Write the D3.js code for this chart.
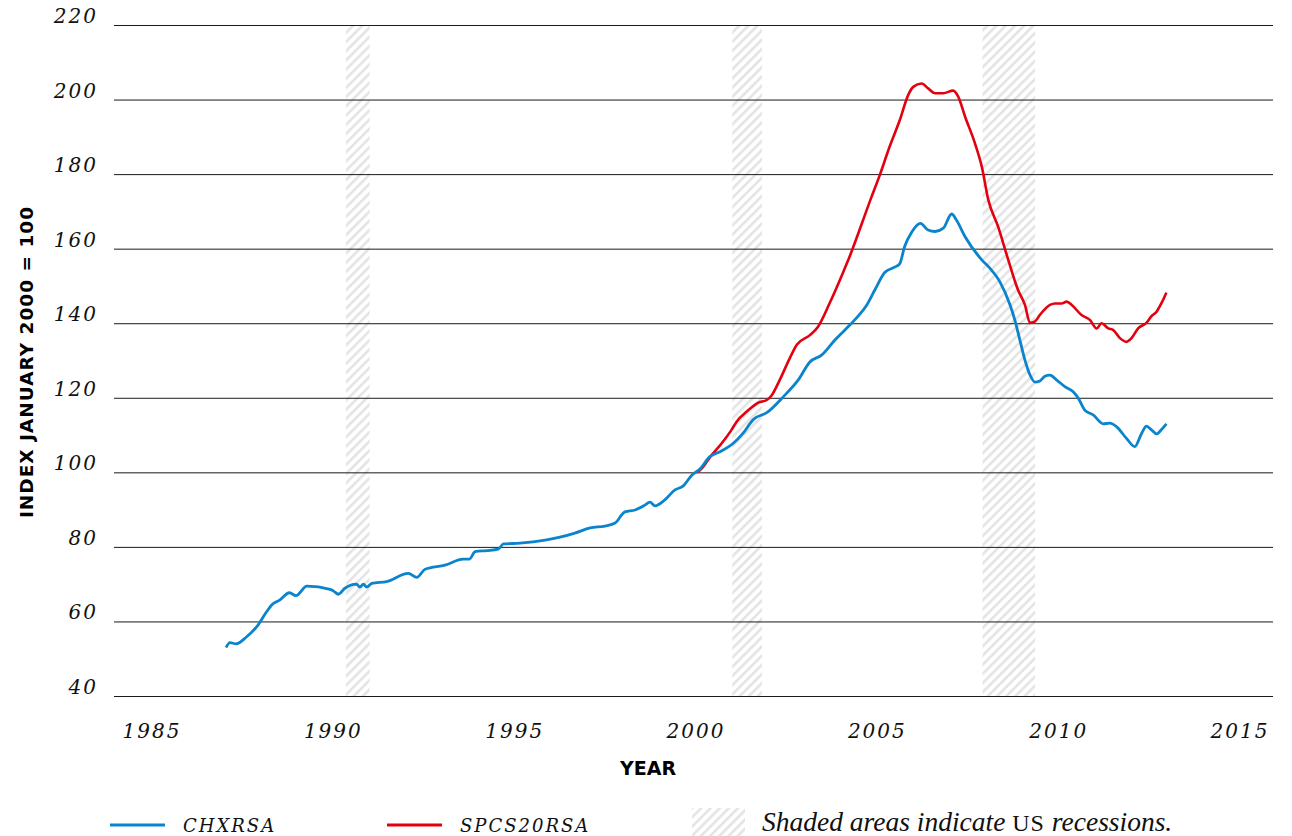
<!DOCTYPE html>
<html>
<head>
<meta charset="utf-8">
<script src="https://d3js.org/d3.v7.min.js"></script>
<style>
  body { margin: 0; background: #fff; }
  svg { display: block; }
  .tick-label { font-family: 'DejaVu Serif', serif; font-style: italic; font-size: 20px; fill: #111; letter-spacing: 2px; }
  .axis-title { font-family: 'DejaVu Sans', sans-serif; font-weight: bold; fill: #000; }
  .legend-label { font-family: 'DejaVu Serif', serif; font-style: italic; font-size: 18px; fill: #111; letter-spacing: 2px; }
</style>
</head>
<body>
<svg id="chart"></svg>
<script>
var width = 1292;
var height = 836;

// Chicago home price index (CHXRSA), decimal years and values
var chxYears = [
  1987.04, 1987.15, 1987.32, 1987.61, 1987.89, 1988.16, 1988.30, 1988.53, 1988.79, 1988.97,
  1989.27, 1989.91, 1990.00, 1990.14, 1990.32, 1990.64, 1990.73, 1990.83, 1990.92, 1991.06,
  1991.47, 1992.07, 1992.30, 1992.53, 1993.08, 1993.58, 1993.75, 1993.91, 1994.23, 1994.55,
  1994.69, 1995.15, 1995.84, 1996.25, 1996.66, 1997.08, 1997.49, 1997.77, 1998.04, 1998.32,
  1998.59, 1998.73, 1998.87, 1999.14, 1999.42, 1999.64, 1999.89, 2000.11, 2000.38, 2000.66,
  2001.03, 2001.30, 2001.58, 2001.95, 2002.41, 2002.82, 2003.14, 2003.47, 2003.83, 2004.24,
  2004.47, 2004.71, 2004.93, 2005.21, 2005.49, 2005.62, 2005.75, 2005.95, 2006.19, 2006.40,
  2006.59, 2006.82, 2007.05, 2007.18, 2007.42, 2007.88, 2008.10, 2008.38, 2008.66, 2008.79,
  2008.93, 2009.07, 2009.21, 2009.35, 2009.48, 2009.62, 2009.76, 2009.94, 2010.17, 2010.40,
  2010.54, 2010.72, 2010.95, 2011.23, 2011.41, 2011.60, 2011.87, 2012.10, 2012.29, 2012.42,
  2012.56, 2012.70, 2012.83, 2012.97
];
var chxValues = [
  53.0, 54.3, 54.0, 55.9, 58.6, 62.6, 64.4, 65.8, 67.7, 66.9,
  69.5, 68.6, 68.2, 67.3, 68.9, 70.0, 69.2, 70.0, 69.2, 70.2,
  70.7, 72.9, 71.8, 74.0, 75.1, 76.7, 76.7, 78.7, 79.0, 79.4,
  80.8, 81.0, 81.8, 82.6, 83.7, 85.1, 85.6, 86.4, 89.4, 89.9,
  91.2, 92.0, 91.0, 92.6, 95.3, 96.3, 99.3, 100.9, 104.2, 105.5,
  107.8, 110.5, 114.2, 116.0, 120.3, 124.8, 129.6, 131.5, 135.5, 139.5,
  141.9, 144.9, 148.9, 153.7, 155.1, 156.0, 160.5, 164.5, 166.8, 165.0,
  164.6, 165.5, 169.3, 167.7, 163.2, 157.0, 154.8, 151.1, 144.9, 140.9,
  135.5, 130.1, 126.1, 124.2, 124.5, 125.8, 126.1, 124.8, 123.0, 121.6,
  119.9, 116.7, 115.4, 113.0, 113.2, 112.2, 109.1, 106.9, 110.5, 112.4,
  111.4, 110.3, 111.4, 113.0
];

// 20-city composite (SPCS20RSA)
var spcsYears = [
  2000.00, 2000.11, 2000.43, 2000.71, 2000.98, 2001.12, 2001.40, 2001.72, 2001.95, 2002.09,
  2002.31, 2002.59, 2002.78, 2003.14, 2003.36, 2003.69, 2004.05, 2004.20, 2004.84, 2005.07,
  2005.34, 2005.62, 2005.85, 2005.99, 2006.22, 2006.40, 2006.59, 2006.82, 2007.09, 2007.23,
  2007.42, 2007.69, 2007.88, 2008.06, 2008.33, 2008.61, 2008.88, 2009.07, 2009.21, 2009.35,
  2009.48, 2009.76, 2009.90, 2010.08, 2010.22, 2010.36, 2010.63, 2010.86, 2011.05, 2011.18,
  2011.37, 2011.50, 2011.69, 2011.87, 2012.01, 2012.19, 2012.42, 2012.56, 2012.70, 2012.83,
  2012.97
];
var spcsValues = [
  100.0, 100.6, 104.6, 107.8, 111.4, 113.6, 116.3, 118.7, 119.4, 120.7,
  124.8, 130.7, 134.2, 136.8, 139.0, 145.5, 153.5, 157.0, 173.9, 179.8,
  187.4, 194.5, 201.2, 203.4, 204.3, 203.0, 201.7, 201.7, 202.4, 200.8,
  195.4, 188.3, 182.0, 173.1, 165.9, 157.0, 148.9, 144.9, 140.1, 140.5,
  142.2, 144.9, 145.3, 145.3, 145.8, 144.9, 142.2, 140.9, 138.6, 140.0,
  138.6, 138.2, 136.0, 135.0, 136.0, 138.6, 140.1, 141.9, 143.1, 145.3,
  148.2
];

var recessionStarts = [1990.35, 2001.0, 2007.9];
var recessionEnds = [1991.0, 2001.82, 2009.35];

var yTicks = [40, 60, 80, 100, 120, 140, 160, 180, 200, 220];
var xTicks = [1985, 1990, 1995, 2000, 2005, 2010, 2015];

var blue = '#0a84cc';
var red = '#e3000f';

var xScale = d3.scaleLinear()
  .domain([1985, 2015])
  .range([152, 1240]);

var yScale = d3.scaleLinear()
  .domain([40, 220])
  .range([696, 25]);

var svg = d3.select('#chart')
  .attr('width', width)
  .attr('height', height);

var defs = svg.append('defs');
defs.append('pattern')
  .attr('id', 'hatch')
  .attr('patternUnits', 'userSpaceOnUse')
  .attr('width', 6.5)
  .attr('height', 6.5)
  .attr('patternTransform', 'rotate(45)')
  .append('rect')
  .attr('x', 0)
  .attr('y', 0)
  .attr('width', 2.6)
  .attr('height', 6.5)
  .attr('fill', '#e4e4e4');

// recession bands
svg.append('g')
  .selectAll('rect')
  .data(recessionStarts)
  .enter()
  .append('rect')
  .attr('x', d => xScale(d))
  .attr('width', (d, i) => xScale(recessionEnds[i]) - xScale(d))
  .attr('y', yScale(220))
  .attr('height', yScale(40) - yScale(220))
  .attr('fill', 'url(#hatch)');

// horizontal grid lines
var yAxis = d3.axisLeft(yScale)
  .tickValues(yTicks)
  .tickSize(-(1273 - 114))
  .tickSizeOuter(0)
  .tickFormat('');

svg.append('g')
  .attr('transform', 'translate(114,0)')
  .call(yAxis)
  .call(g => g.select('.domain').remove())
  .call(g => g.selectAll('.tick line').attr('stroke', '#1a1a1a').attr('stroke-width', 1));

svg.append('g')
  .selectAll('text')
  .data(yTicks)
  .enter()
  .append('text')
  .attr('class', 'tick-label')
  .attr('x', 98)
  .attr('y', d => yScale(d) - 2)
  .style('text-anchor', 'end')
  .text(d => d);

svg.append('g')
  .selectAll('text')
  .data(xTicks)
  .enter()
  .append('text')
  .attr('class', 'tick-label')
  .attr('x', d => xScale(d))
  .attr('y', 738)
  .style('text-anchor', 'middle')
  .text(d => d);

// lines
var line = d3.line()
  .x(d => xScale(d[0]))
  .y(d => yScale(d[1]))
  .curve(d3.curveMonotoneX);

svg.append('path')
  .datum(d3.zip(spcsYears, spcsValues))
  .attr('d', line)
  .attr('fill', 'none')
  .attr('stroke', red)
  .attr('stroke-width', 2.6)
  .attr('stroke-linejoin', 'round');

svg.append('path')
  .datum(d3.zip(chxYears, chxValues))
  .attr('d', line)
  .attr('fill', 'none')
  .attr('stroke', blue)
  .attr('stroke-width', 2.8)
  .attr('stroke-linejoin', 'round');

// axis titles
svg.append('text')
  .attr('class', 'axis-title')
  .attr('transform', 'translate(33,362) rotate(-90)')
  .style('text-anchor', 'middle')
  .style('font-size', '18.5px')
  .style('letter-spacing', '1px')
  .text('INDEX JANUARY 2000 = 100');

svg.append('text')
  .attr('class', 'axis-title')
  .attr('x', 648)
  .attr('y', 775)
  .style('text-anchor', 'middle')
  .style('font-size', '19px')
  .text('YEAR');

// legend
var legend = svg.append('g');

legend.append('line')
  .attr('x1', 110).attr('x2', 165)
  .attr('y1', 825).attr('y2', 825)
  .attr('stroke', blue)
  .attr('stroke-width', 2.8);

legend.append('text')
  .attr('class', 'legend-label')
  .attr('x', 183)
  .attr('y', 832)
  .text('CHXRSA');

legend.append('line')
  .attr('x1', 387).attr('x2', 442)
  .attr('y1', 825).attr('y2', 825)
  .attr('stroke', red)
  .attr('stroke-width', 2.8);

legend.append('text')
  .attr('class', 'legend-label')
  .attr('x', 460)
  .attr('y', 832)
  .text('SPCS20RSA');

legend.append('rect')
  .attr('x', 692)
  .attr('y', 808)
  .attr('width', 53)
  .attr('height', 28)
  .attr('fill', 'url(#hatch)');

var note = legend.append('text')
  .attr('x', 762)
  .attr('y', 831)
  .style('font-family', "'Liberation Serif', serif")
  .style('font-size', '27.5px')
  .style('fill', '#111');

note.append('tspan').style('font-style', 'italic').text('Shaded areas indicate ');
note.append('tspan').style('font-size', '24px').style('letter-spacing', '1px').text('US');
note.append('tspan').style('font-style', 'italic').text(' recessions.');
</script>
</body>
</html>
